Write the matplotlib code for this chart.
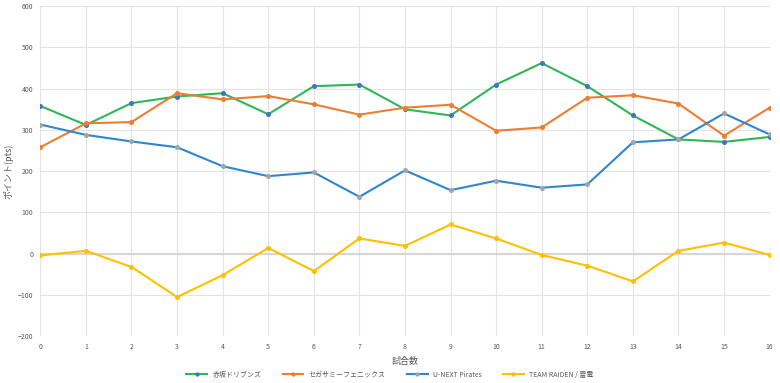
import matplotlib
matplotlib.use("Agg")
import matplotlib.pyplot as plt

plt.rcParams['font.family'] = ['Noto Sans CJK JP', 'DejaVu Sans']

games = list(range(17))

akasaka = [358, 312, 365, 381, 389, 338, 406, 410, 350, 335, 410, 462, 406, 335, 277, 271, 283]
segasammy = [258, 316, 319, 389, 374, 382, 362, 337, 354, 361, 298, 306, 378, 384, 364, 286, 354]
unext = [313, 288, 272, 258, 212, 188, 197, 138, 202, 154, 177, 160, 168, 270, 277, 340, 289]
raiden = [-4, 7, -32, -105, -52, 14, -42, 37, 19, 71, 37, -3, -29, -67, 7, 27, -3]

names = ["赤坂ドリブンズ", "セガサミーフェニックス", "U-NEXT Pirates", "TEAM RAIDEN / 雷電"]
line_colors = ["#2DB757", "#ED7D31", "#2E86D1", "#FFC000"]
marker_colors = ["#4472C4", "#ED7D31", "#A5A5A5", "#FFC000"]

fig = plt.figure(figsize=(7.8, 3.83), dpi=100)
ax = fig.add_axes([0.0517, 0.122, 0.935, 0.862])

for vals, name, lc, mc in zip([akasaka, segasammy, unext, raiden], names, line_colors, marker_colors):
    ax.plot(games, vals, color=lc, lw=1.5, marker="o", ms=2.6,
            markerfacecolor=mc, markeredgecolor=mc, label=name)

ax.set_xlim(0, 16)
ax.set_ylim(-200, 600)
ax.set_xticks(games)
ax.set_yticks(range(-200, 601, 100))
ax.grid(True, color="#E3E3E3", lw=0.8)
ax.axhline(0, color="#D6D6D6", lw=1.5, zorder=1)
ax.set_axisbelow(True)
for s in ax.spines.values():
    s.set_visible(False)
ax.tick_params(length=0, labelsize=5, colors="#595959", pad=5)

ax.set_xlabel("試合数", fontsize=6.5, color="#595959", labelpad=4)
ax.set_ylabel("ポイント(pts)", fontsize=6.5, color="#595959", labelpad=3)

fig.legend(loc="lower center", bbox_to_anchor=(0.5, -0.005), ncol=4, frameon=False,
           fontsize=5, labelcolor="#595959", handlelength=3, columnspacing=3,
           markerscale=0.8)

fig.savefig("out.png", dpi=100)
